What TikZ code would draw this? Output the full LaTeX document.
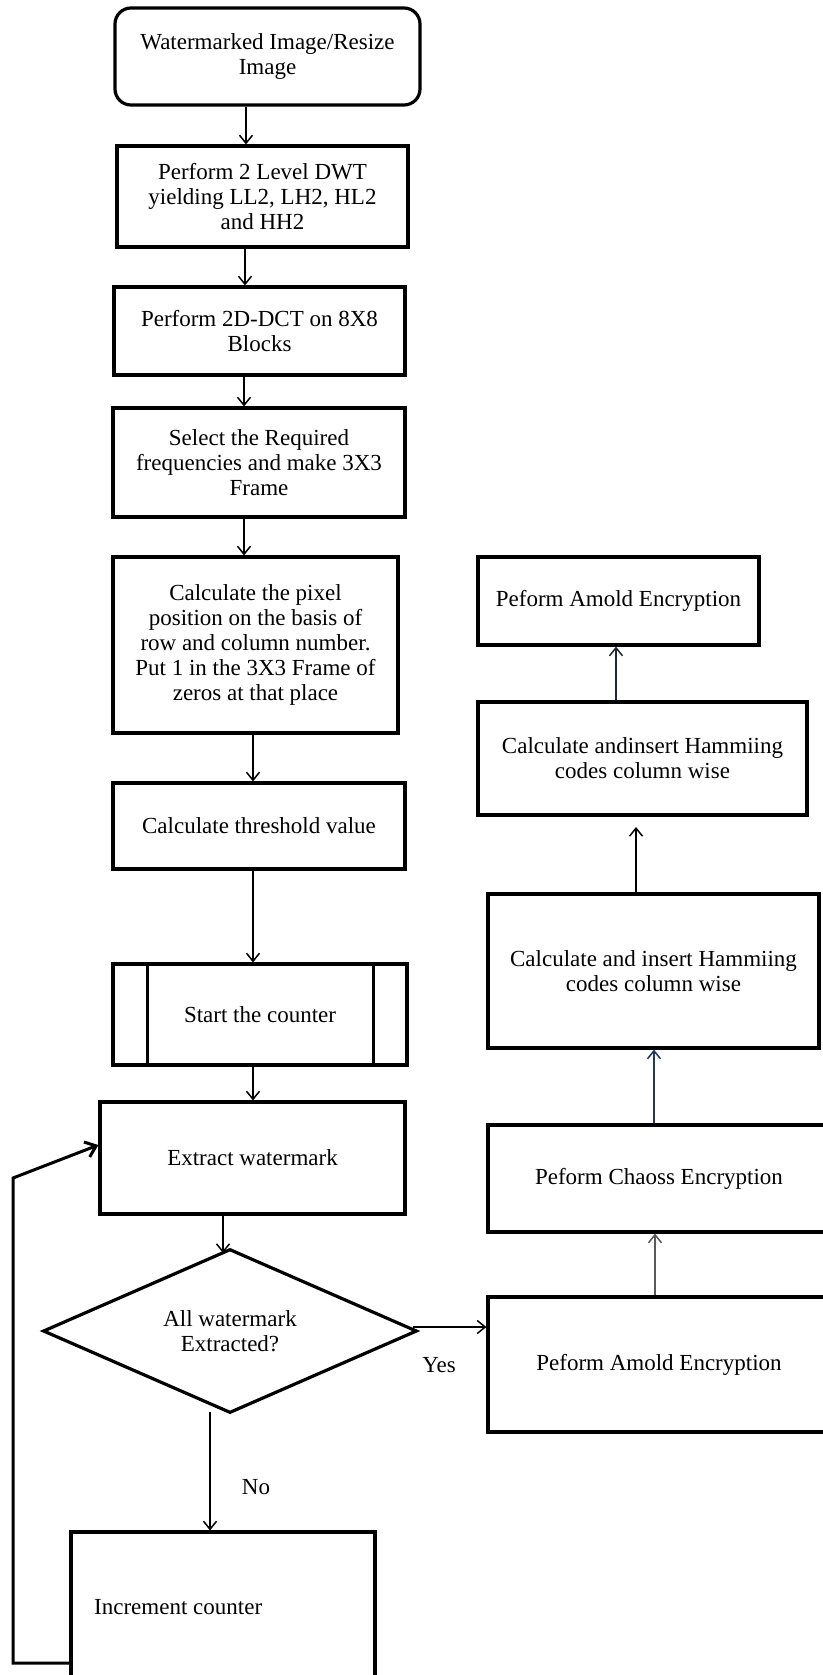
\documentclass[tikz,border=0pt]{standalone}
\usepackage{fontspec}
\setmainfont{Liberation Serif}
\usetikzlibrary{arrows.meta,shapes.geometric,calc}
\definecolor{navyline}{RGB}{31,56,100}
\definecolor{grayline}{RGB}{90,90,90}
\definecolor{darkline}{RGB}{30,40,55}
\begin{document}
\begin{tikzpicture}[x=1pt,y=-1pt,
  every node/.style={font=\fontsize{23}{25}\selectfont},
  box/.style={draw=black,line width=3.2pt,rectangle,align=center,inner sep=2pt},
  conn/.style={line width=1.5pt,-{Straight Barb[length=8pt,width=13pt,line width=1.5pt]}},
  lbl/.style={inner sep=0pt}]
\useasboundingbox (0,0) rectangle (822,1675);
\fill[white] (0,0) rectangle (822,1675);

% left column
\node[box,rounded corners=16pt,minimum width=305pt,minimum height=97pt] (wm) at (267.5,56.5) {Watermarked Image/Resize\\Image};
\node[box,minimum width=291pt,minimum height=101pt] (dwt) at (262.5,196.5) {Perform 2 Level DWT\\yielding LL2, LH2, HL2\\and HH2};
\node[box,minimum width=291pt,minimum height=88pt] (dct) at (259.5,331) {Perform 2D-DCT on 8X8\\Blocks};
\node[box,minimum width=292pt,minimum height=109pt] (sel) at (259,462.5) {Select the Required\\frequencies and make 3X3\\Frame};
\node[box,minimum width=285pt,minimum height=176pt] (pix) at (255.5,645) {Calculate the pixel\\position on the basis of\\row and column number.\\Put 1 in the 3X3 Frame of\\zeros at that place};
\node[box,minimum width=292pt,minimum height=86pt] (thr) at (259,826) {Calculate threshold value};
\node[box,minimum width=294pt,minimum height=101pt] (cnt) at (260,1014.5) {Start the counter};
\draw[line width=3.2pt] ($(cnt.north west)+(36,0)$) -- ($(cnt.south west)+(36,0)$);
\draw[line width=3.2pt] ($(cnt.north east)+(-35,0)$) -- ($(cnt.south east)+(-35,0)$);
\node[box,minimum width=305pt,minimum height=112pt] (ext) at (252.5,1158) {Extract watermark};
\node[draw=black,line width=3.2pt,diamond,shape aspect=2.28,minimum width=374pt,minimum height=164pt,inner sep=0pt,align=center] (dia) at (230,1331) {All watermark\\Extracted?};
\node[box,minimum width=304pt,minimum height=180pt] (inc) at (223,1622) {};
\node[lbl,anchor=west] (inctxt) at (94,1607) {Increment counter};

% right column
\node[box,minimum width=281pt,minimum height=88pt] (am1) at (618.5,601) {Peform Amold Encryption};
\node[box,minimum width=329pt,minimum height=113pt] (ham1) at (642.5,758.5) {Calculate andinsert Hammiing\\codes column wise};
\node[box,minimum width=331pt,minimum height=154pt] (ham2) at (653.5,971) {Calculate and insert Hammiing\\codes column wise};
\node[box,minimum width=342pt,minimum height=107pt] (chs) at (659,1178.5) {Peform Chaoss Encryption};
\node[box,minimum width=342pt,minimum height=135pt] (am2) at (659,1364.5) {Peform Amold Encryption};

% connectors
\draw[conn] (wm.south -| 246,0) -- (dwt.north -| 246,0);
\draw[conn] (dwt.south -| 245,0) -- (dct.north -| 245,0);
\draw[conn] (dct.south -| 244,0) -- (sel.north -| 244,0);
\draw[conn] (sel.south -| 244,0) -- (pix.north -| 244,0);
\draw[conn] (pix.south -| 253,0) -- (thr.north -| 253,0);
\draw[conn] (thr.south -| 253,0) -- (cnt.north -| 253,0);
\draw[conn] (cnt.south -| 253,0) -- (ext.north -| 253,0);
\coordinate (diatop) at (223,1253);
\draw[conn] (ext.south -| 223,0) -- (diatop);
\coordinate (diabot) at (210,1412);
\draw[conn] (diabot) -- (inc.north -| 210,0);
\coordinate (diaright) at (413,1327);
\draw[conn] (diaright) -- (am2.west |- 0,1327);
\node[lbl] (yes) at (439,1365) {Yes};
\node[lbl] (no) at (256,1487) {No};

\draw[conn,grayline] (am2.north -| 655,0) -- (chs.south -| 655,0);
\draw[conn,navyline] (chs.north -| 654,0) -- (ham2.south -| 654,0);
\coordinate (ham1gap) at (636,827);
\draw[conn] (ham2.north -| 636,0) -- (ham1gap);
\draw[conn,darkline] (ham1.north -| 616,0) -- (am1.south -| 616,0);

% feedback loop
\coordinate (fb1) at (13,1663);
\coordinate (fb2) at (13,1178);
\draw[line width=3pt,-{Straight Barb[length=10pt,width=16pt,line width=3pt]}] (inc.west |- fb1) -- (fb1) -- (fb2) -- (ext.west |- 0,1145);
\end{tikzpicture}
\end{document}
